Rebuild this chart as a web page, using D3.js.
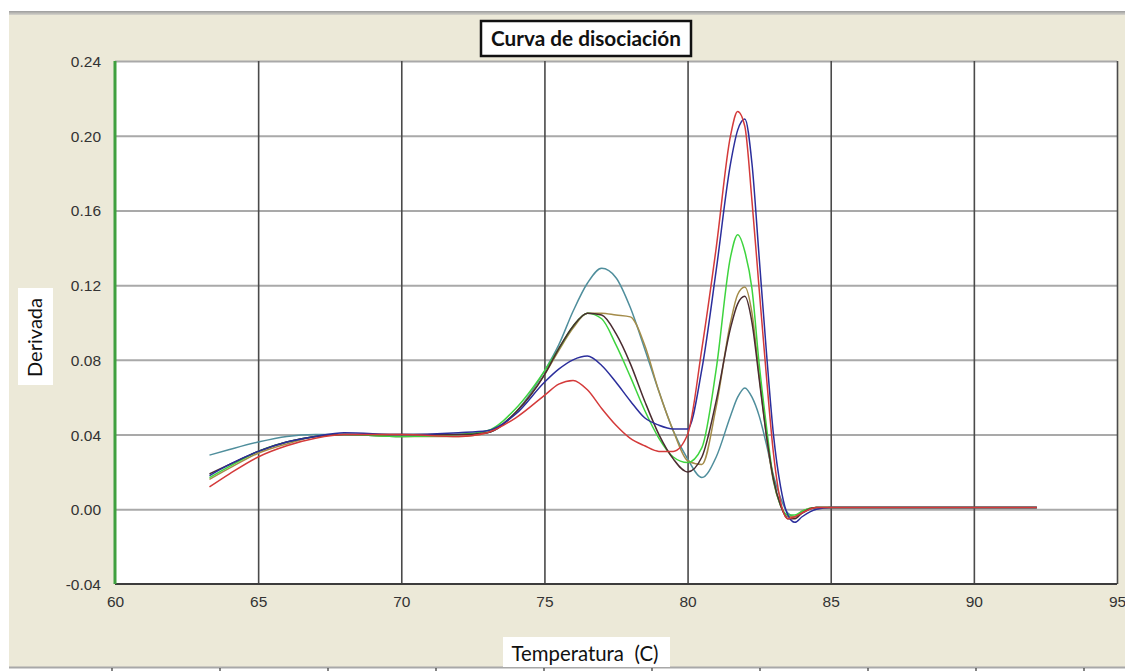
<!DOCTYPE html>
<html>
<head>
<meta charset="utf-8">
<script src="https://cdn.jsdelivr.net/npm/d3@7"></script>
<style>
  html, body { margin: 0; padding: 0; background: #ffffff; }
  svg { display: block; }
</style>
</head>
<body>
<svg id="chart" width="1125" height="671"></svg>
<script>
// ---------------- DATA ----------------
const temps = [63.3, 64, 65, 66, 67, 68, 70, 72, 73, 74, 75, 75.5, 76, 76.5, 77, 77.5, 78, 78.5, 79, 79.5,
               80, 80.5, 81, 81.5, 81.75, 82, 82.25, 82.5, 82.75, 83, 83.25, 83.5, 83.75, 84, 84.5, 85, 88, 92.2];

const tealValues  = [0.029,0.032,0.036,0.039,0.040,0.040,0.039,0.040,0.041,0.052, 0.074,0.088,0.106,0.121,0.129,0.124,0.108,0.086,0.063,0.042,
                     0.027,0.017,0.028,0.050,0.060,0.065,0.060,0.050,0.035,0.018, 0.006,-0.002,-0.004,-0.002,0.001,0.001,0.001,0.001];
const oliveValues = [0.016,0.022,0.030,0.035,0.039,0.040,0.039,0.039,0.041,0.052, 0.072,0.085,0.097,0.105,0.105,0.104,0.103,0.088,0.063,0.042,
                     0.026,0.024,0.055,0.100,0.115,0.119,0.105,0.072,0.040,0.015, 0.002,-0.004,-0.004,-0.001,0.001,0.001,0.001,0.001];
const greenValues = [0.017,0.023,0.031,0.036,0.039,0.040,0.039,0.040,0.042,0.054, 0.074,0.086,0.098,0.105,0.102,0.088,0.071,0.053,0.038,0.028,
                     0.025,0.033,0.075,0.135,0.147,0.138,0.118,0.078,0.045,0.016, 0.002,-0.003,-0.003,-0.001,0.001,0.001,0.001,0.001];
const darkValues  = [0.019,0.024,0.031,0.036,0.039,0.040,0.040,0.040,0.041,0.052, 0.072,0.086,0.098,0.105,0.104,0.094,0.078,0.058,0.040,0.027,
                     0.020,0.028,0.058,0.097,0.110,0.114,0.100,0.070,0.040,0.016, 0.002,-0.005,-0.005,-0.002,0.001,0.001,0.001,0.001];
const blueValues  = [0.018,0.024,0.031,0.036,0.039,0.041,0.040,0.041,0.042,0.051, 0.068,0.075,0.080,0.082,0.077,0.068,0.058,0.049,0.045,0.043,
                     0.043,0.075,0.128,0.185,0.203,0.209,0.185,0.135,0.085,0.040, 0.012,-0.003,-0.007,-0.004,0.000,0.001,0.001,0.001];
const redValues   = [0.012,0.019,0.028,0.034,0.038,0.040,0.040,0.039,0.041,0.049, 0.061,0.067,0.069,0.064,0.054,0.045,0.038,0.034,0.031,0.031,
                     0.040,0.086,0.140,0.200,0.213,0.205,0.165,0.118,0.072,0.030, 0.004,-0.005,-0.004,-0.002,0.001,0.001,0.001,0.001];

const seriesNames  = ["teal", "olive", "green", "dark", "blue", "red"];
const seriesColors = ["#4f8e9c", "#a48c4a", "#3ed43e", "#4a2c30", "#2b2e9c", "#d43a3a"];
const seriesData   = [tealValues, oliveValues, greenValues, darkValues, blueValues, redValues];

const xTicks = [60, 65, 70, 75, 80, 85, 90, 95];
const yTicks = [-0.04, 0.00, 0.04, 0.08, 0.12, 0.16, 0.20, 0.24];

const titleText = "Curva de disociación";
const xLabelText = "Temperatura  (C)";
const yLabelText = "Derivada";

// ---------------- LAYOUT ----------------
const svg = d3.select("#chart");
const W = 1125, H = 671;
const plot = { left: 115, right: 1117, top: 61, bottom: 584 };
const locale = d3.formatLocale({ decimal: ".", thousands: ",", grouping: [3], currency: ["", ""], minus: "-" });

// window chrome
svg.append("rect").attr("x", 0).attr("y", 0).attr("width", W).attr("height", H).attr("fill", "#ffffff");
svg.append("rect").attr("x", 9).attr("y", 14).attr("width", W - 9).attr("height", 653).attr("fill", "#ece9d8");
const grad = svg.append("defs").append("linearGradient").attr("id", "topg").attr("x1", 0).attr("x2", 0).attr("y1", 0).attr("y2", 1);
grad.append("stop").attr("offset", "0%").attr("stop-color", "#9c9c9c");
grad.append("stop").attr("offset", "100%").attr("stop-color", "#d6d4cc");
svg.append("rect").attr("x", 9).attr("y", 11).attr("width", W - 9).attr("height", 4).attr("fill", "url(#topg)");
svg.append("line").attr("x1", 9).attr("x2", W).attr("y1", 667.5).attr("y2", 667.5).attr("stroke", "#a8a8a8").attr("stroke-width", 2);
const stripScale = d3.scaleLinear().domain([0, 10]).range([112, 1192]);
svg.append("g").selectAll("line").data(d3.range(10)).join("line")
  .attr("x1", d => stripScale(d)).attr("x2", d => stripScale(d))
  .attr("y1", 668).attr("y2", 671).attr("stroke", "#333").attr("stroke-width", 1.2);

// plot area
svg.append("rect").attr("x", plot.left).attr("y", plot.top)
  .attr("width", plot.right - plot.left).attr("height", plot.bottom - plot.top).attr("fill", "#ffffff");

const x = d3.scaleLinear().domain([60, 95]).range([plot.left, plot.right]);
const y = d3.scaleLinear().domain([-0.04, 0.24]).range([plot.bottom, plot.top]);

// horizontal grid (light gray)
const hGrid = svg.append("g").attr("transform", `translate(${plot.left},0)`)
  .call(d3.axisLeft(y).tickValues(yTicks.filter(v => v > -0.04)).tickSize(-(plot.right - plot.left)).tickFormat(""));
hGrid.select(".domain").remove();
hGrid.selectAll("line").attr("stroke", "#a9a9a9").attr("stroke-width", 2);

// vertical grid (dark gray), including right border
const vGrid = svg.append("g").attr("transform", `translate(0,${plot.bottom})`)
  .call(d3.axisBottom(x).tickValues(xTicks.filter(v => v > 60)).tickSize(-(plot.bottom - plot.top)).tickFormat(""));
vGrid.select(".domain").remove();
vGrid.selectAll("line").attr("stroke", "#4a4a4a").attr("stroke-width", 1.6);

// bottom axis line
svg.append("line").attr("x1", plot.left).attr("x2", plot.right).attr("y1", plot.bottom).attr("y2", plot.bottom)
  .attr("stroke", "#3c3c3c").attr("stroke-width", 2);

// curves
const line = d3.line().x(d => x(d[0])).y(d => y(d[1])).curve(d3.curveMonotoneX);
const curves = svg.append("g").attr("fill", "none").attr("stroke-width", 1.5).attr("stroke-linejoin", "round");
seriesData.forEach((vals, i) => {
  curves.append("path")
    .datum(temps.map((t, j) => [t, vals[j]]))
    .attr("class", "series-" + seriesNames[i])
    .attr("stroke", seriesColors[i])
    .attr("d", line);
});

// left green axis
svg.append("line").attr("x1", plot.left).attr("x2", plot.left).attr("y1", plot.top).attr("y2", plot.bottom)
  .attr("stroke", "#3fa03f").attr("stroke-width", 3);

// tick labels
const yAxis = svg.append("g").attr("transform", `translate(${plot.left - 14},0)`)
  .call(d3.axisLeft(y).tickValues(yTicks).tickSize(0).tickPadding(0).tickFormat(locale.format(".2f")));
yAxis.select(".domain").remove();
yAxis.selectAll("text").attr("font-family", "'Liberation Sans', Arial, sans-serif").attr("font-size", 15.5)
  .attr("fill", "#333").attr("dy", "0.35em");

const xAxis = svg.append("g").attr("transform", `translate(0,${plot.bottom + 12})`)
  .call(d3.axisBottom(x).tickValues(xTicks).tickSize(0).tickPadding(0).tickFormat(locale.format("d")));
xAxis.select(".domain").remove();
xAxis.selectAll("text").attr("font-family", "'Liberation Sans', Arial, sans-serif").attr("font-size", 15.5)
  .attr("fill", "#333").attr("dy", "0.71em");

function fitWidth(sel, target) {
  const w = sel.node().getComputedTextLength();
  const fs = parseFloat(sel.attr("font-size"));
  if (w > 0) sel.attr("font-size", fs * target / w);
}

// title box
svg.append("rect").attr("x", 481).attr("y", 21).attr("width", 210).attr("height", 35)
  .attr("fill", "#ffffff").attr("stroke", "#111").attr("stroke-width", 2.5);
const title = svg.append("text").attr("x", 586).attr("y", 46).attr("text-anchor", "middle")
  .attr("font-family", "Lato, 'Open Sans', sans-serif").attr("font-weight", "bold").attr("font-size", 21)
  .attr("fill", "#111").text(titleText);
fitWidth(title, 190);

// y label box
svg.append("rect").attr("x", 18).attr("y", 288).attr("width", 35).attr("height", 97).attr("fill", "#ffffff");
const yl = svg.append("text").attr("transform", "translate(42,337.5) rotate(-90)").attr("text-anchor", "middle")
  .attr("font-family", "Lato, 'Open Sans', sans-serif").attr("font-size", 20).attr("fill", "#111").text(yLabelText);
fitWidth(yl, 79);

// x label box
svg.append("rect").attr("x", 503).attr("y", 637).attr("width", 167).attr("height", 30).attr("fill", "#ffffff");
const xl = svg.append("text").attr("x", 585).attr("y", 661).attr("text-anchor", "middle")
  .attr("font-family", "Lato, 'Open Sans', sans-serif").attr("font-size", 20).attr("fill", "#111")
  .attr("xml:space", "preserve").style("white-space", "pre").text(xLabelText);
fitWidth(xl, 147);
</script>
</body>
</html>
